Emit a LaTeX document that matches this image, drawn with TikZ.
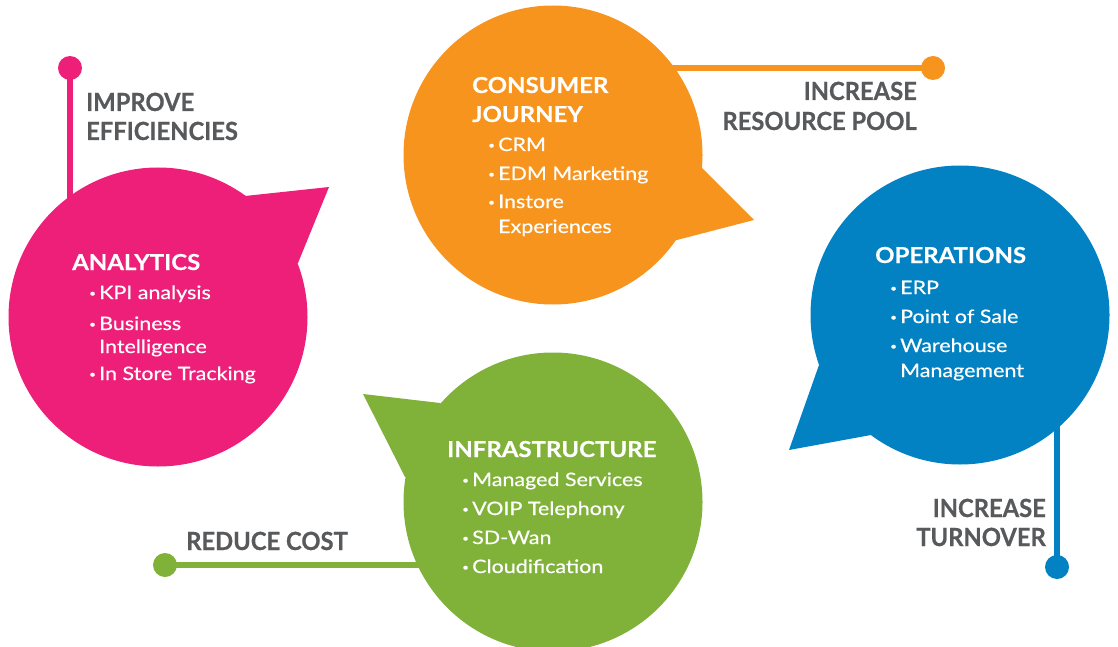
\documentclass[tikz,border=0pt]{standalone}
\usepackage{fontspec}
\setmainfont{Lato}
\newfontfamily\itemfont{Lato}[FakeStretch=1.16, FakeBold=0.5]
\newfontfamily\headfont{Lato Bold}[FakeStretch=1.09, FakeBold=0.4]
\newfontfamily\labfont{Lato Bold}[FakeStretch=0.95, FakeBold=0.6]
\usetikzlibrary{backgrounds}
\definecolor{pinkc}{HTML}{ED1F79}
\definecolor{orangec}{HTML}{F7941E}
\definecolor{bluec}{HTML}{0282C2}
\definecolor{greenc}{HTML}{80B23A}
\definecolor{labgray}{HTML}{58595B}
\newcommand\bl{\makebox[10pt][l]{\raisebox{2.3pt}{\fontsize{10}{10}\selectfont •}}}
\tikzset{
  bubble/.style={circle, minimum size=299pt, inner sep=0pt, draw=none},
  enddot/.style={circle, minimum size=24pt, inner sep=0pt, draw=none},
  conn/.style={line width=6.5pt},
  head/.style={font=\headfont\fontsize{22}{22}\selectfont, text=white, anchor=base west, inner sep=0pt},
  itm/.style={font=\itemfont\fontsize{18.5}{18.5}\selectfont, text=white, anchor=base west, inner sep=0pt},
  lab/.style={font=\labfont\fontsize{25}{25}\selectfont, text=labgray, inner sep=0pt},
}
\begin{document}
\begin{tikzpicture}[x=1pt,y=-1pt]
\useasboundingbox (0,0) rectangle (1118,647);
% bubbles
\node[bubble, fill=pinkc] (pc) at (158,317) {};
\node[bubble, fill=orangec] (oc) at (553,155) {};
\node[bubble, fill=bluec] (bc) at (960,315) {};
\node[bubble, fill=greenc] (gc) at (553,502) {};
% tails
\fill[pinkc] (pc.center) -- (245,196) -- (329,187) -- (298,263) -- cycle;
\fill[orangec] (oc.center) -- (702,168) -- (754,220) -- (673,241) -- cycle;
\fill[bluec] (bc.center) -- (819,365) -- (789,450) -- (871,435) -- cycle;
\fill[greenc] (gc.center) -- (440,403) -- (363,394) -- (405,477) -- cycle;
% end dots
\node[enddot, fill=pinkc] (pd) at (70,68) {};
\node[enddot, fill=orangec] (od) at (933,68) {};
\node[enddot, fill=bluec] (bd) at (1057,567) {};
\node[enddot, fill=greenc] (gd) at (165,565) {};
% connectors
\begin{scope}[on background layer]
\draw[conn, pinkc] (pd.center) -- (pd.center |- pc.center);
\draw[conn, orangec] (od.center) -- (od.center -| oc.center);
\draw[conn, bluec] (bd.center) -- (bd.center |- bc.center);
\draw[conn, greenc] (gd.center) -- (gd.center -| gc.center);
\end{scope}
% analytics
\node[head] (ph) at (72,270) {ANALYTICS};
\node[itm] (p1) at (89,299) {\bl KPI analysis};
\node[itm] (p2) at (89,330) {\bl Business};
\node[itm] (p2b) at (99,353) {Intelligence};
\node[itm] (p3) at (89,380) {\bl In Store Tracking};
% consumer journey
\node[head] (oh1) at (472,93) {CONSUMER};
\node[head] (oh2) at (472,122) {JOURNEY};
\node[itm] (o1) at (488,151) {\bl CRM};
\node[itm] (o2) at (488,180) {\bl EDM Marketing};
\node[itm] (o3) at (488,208) {\bl Instore};
\node[itm] (o3b) at (498,233) {Experiences};
% operations
\node[head] (bh) at (875,263) {OPERATIONS};
\node[itm] (b1) at (890,294) {\bl ERP};
\node[itm] (b2) at (890,323) {\bl Point of Sale};
\node[itm] (b3) at (890,352) {\bl Warehouse};
\node[itm] (b3b) at (900,377) {Management};
% infrastructure
\node[head] (gh) at (447,457) {INFRASTRUCTURE};
\node[itm] (g1) at (462,486) {\bl Managed Services};
\node[itm] (g2) at (462,515) {\bl VOIP Telephony};
\node[itm] (g3) at (462,544) {\bl SD-Wan};
\node[itm] (g4) at (462,573) {\bl Cloudification};
% outer labels
\node[lab, anchor=base west] (l1a) at (86,111) {IMPROVE};
\node[lab, anchor=base west] (l1b) at (86,140) {EFFICIENCIES};
\node[lab, anchor=base east] (l2a) at (917,100) {INCREASE};
\node[lab, anchor=base east] (l2b) at (917,130) {RESOURCE POOL};
\node[lab, anchor=base east] (l3a) at (1046,517) {INCREASE};
\node[lab, anchor=base east] (l3b) at (1046,546) {TURNOVER};
\node[lab, anchor=base west] (l4) at (186,550) {REDUCE COST};
\end{tikzpicture}
\end{document}
